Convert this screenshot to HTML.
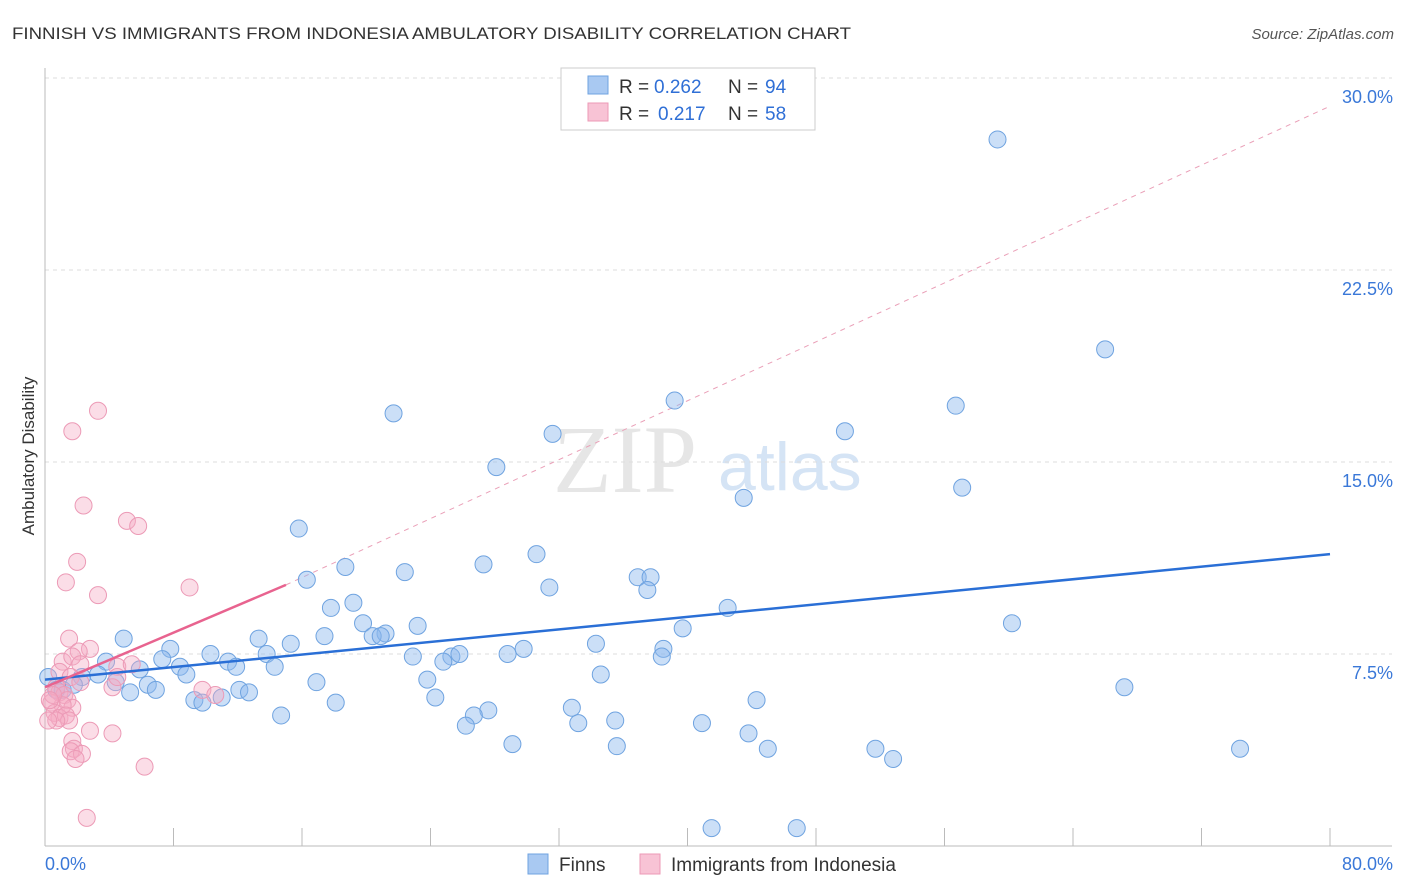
<!DOCTYPE html>
<html><head><meta charset="utf-8">
<style>
body{margin:0;background:#fff;font-family:"Liberation Sans",sans-serif;}
svg{display:block}
</style></head>
<body>
<svg id="chart" width="1406" height="892">
<text x="12" y="39" font-size="17" fill="#333" textLength="839" lengthAdjust="spacingAndGlyphs">FINNISH VS IMMIGRANTS FROM INDONESIA AMBULATORY DISABILITY CORRELATION CHART</text>
<text x="1394" y="39" font-size="15" fill="#555" font-style="italic" text-anchor="end">Source: ZipAtlas.com</text>
<text x="553" y="492" font-size="96" fill="#e6e6e6" font-family="Liberation Serif, serif">ZIP</text>
<text x="718" y="490" font-size="68" fill="#d5e4f5">atlas</text>
<text transform="translate(34,456) rotate(-90)" font-size="17" fill="#333" text-anchor="middle">Ambulatory Disability</text>
<g id="grid"></g><g id="marks"></g>
<g>
<rect x="561" y="68" width="254" height="62" fill="#fff" stroke="#ccc"/>
<rect x="588" y="76" width="20" height="18" fill="#a9c9f2" stroke="#6fa3e0"/>
<rect x="588" y="103" width="20" height="18" fill="#f8c3d5" stroke="#ec9ab6"/>
<text x="619" y="93" font-size="19" fill="#333">R =</text>
<text x="654" y="93" font-size="19" fill="#2f6fd6">0.262</text>
<text x="728" y="93" font-size="19" fill="#333">N =</text>
<text x="765" y="93" font-size="19" fill="#2f6fd6">94</text>
<text x="619" y="120" font-size="19" fill="#333">R =</text>
<text x="658" y="120" font-size="19" fill="#2f6fd6">0.217</text>
<text x="728" y="120" font-size="19" fill="#333">N =</text>
<text x="765" y="120" font-size="19" fill="#2f6fd6">58</text>
</g>
<g>
<rect x="528" y="854" width="20" height="20" fill="#a9c9f2" stroke="#6fa3e0"/>
<text x="559" y="871" font-size="19" fill="#333">Finns</text>
<rect x="640" y="854" width="20" height="20" fill="#f8c3d5" stroke="#ec9ab6"/>
<text x="671" y="871" font-size="19" fill="#333">Immigrants from Indonesia</text>
</g>
</svg>
<script>
const yTicks=[7.5,15,22.5,30];
const xTickLabels=["0.0%","80.0%"];
const finnsX=[59.3,66.0,21.7,39.2,56.7,31.6,49.8,28.1,57.1,43.5,15.8,30.6,27.3,18.7,22.4,16.3,36.9,37.7,31.4,37.5,17.8,19.2,42.5,60.2,19.8,23.2,21.2,20.4,20.9,39.7,4.9,13.3,15.3,17.4,34.3,38.5,7.8,10.3,13.8,22.9,25.3,25.8,28.8,29.8,38.4,3.8,7.3,8.4,5.9,11.4,11.9,14.3,24.8,8.8,3.3,2.3,0.2,0.7,1.1,1.8,4.4,6.4,6.9,5.3,12.1,12.7,16.9,23.8,34.6,67.2,9.3,9.8,11.0,18.1,24.3,44.3,14.7,27.6,26.7,32.8,26.2,33.2,35.5,40.9,43.8,29.1,35.6,45.0,51.7,52.8,74.4,41.5,46.8];
const finnsY=[27.6,19.4,16.9,17.4,17.2,16.1,16.2,14.8,14.0,13.6,12.4,11.4,11.0,10.9,10.7,10.4,10.5,10.5,10.1,10.0,9.3,9.5,9.3,8.7,8.7,8.6,8.3,8.2,8.2,8.5,8.1,8.1,7.9,8.2,7.9,7.7,7.7,7.5,7.5,7.4,7.4,7.5,7.5,7.7,7.4,7.2,7.3,7.0,6.9,7.2,7.0,7.0,7.2,6.7,6.7,6.6,6.6,6.1,6.1,6.3,6.4,6.3,6.1,6.0,6.1,6.0,6.4,6.5,6.7,6.2,5.7,5.6,5.8,5.6,5.8,5.7,5.1,5.3,5.1,5.4,4.7,4.8,4.9,4.8,4.4,3.98,3.9,3.8,3.8,3.4,3.8,0.7,0.7];
const indoX=[3.3,1.7,2.4,5.1,5.8,2.0,1.3,9.0,3.3,1.5,2.8,2.1,1.1,1.7,2.2,4.5,5.4,0.9,1.6,2.2,4.2,9.8,10.6,0.7,0.9,1.2,1.4,1.7,1.1,0.4,0.6,0.9,1.3,1.5,0.7,0.2,4.2,2.8,1.7,1.8,1.6,2.3,1.9,6.2,2.6,4.5,0.5,0.3];
const indoY=[17.0,16.2,13.3,12.7,12.5,11.1,10.3,10.1,9.8,8.1,7.7,7.6,7.2,7.4,7.1,7.0,7.1,6.8,6.6,6.4,6.2,6.1,5.9,6.2,6.0,5.9,5.7,5.4,5.5,5.6,5.2,5.0,5.1,4.9,4.9,4.9,4.4,4.5,4.1,3.8,3.7,3.6,3.4,3.1,1.1,6.6,5.9,5.7];
const finnsTrend=[6.5,11.4];
const indoTrend=[6.2,10.2];
const indoDash=[10.2,28.9];
const X0=45,X1=1330,YB=846;
const sx=v=>X0+(v/80)*(X1-X0);
const sy=v=>YB-v*(192/7.5);
const NS="http://www.w3.org/2000/svg";
const grid=document.getElementById('grid'),marks=document.getElementById('marks');
function mk(tag,attrs,parent){const e=document.createElementNS(NS,tag);for(const k in attrs)e.setAttribute(k,attrs[k]);parent.appendChild(e);return e;}
yTicks.forEach(t=>{
 const l=mk('line',{x1:X0,x2:1392,y1:sy(t),y2:sy(t),stroke:'#ddd','stroke-dasharray':'4,4'},grid);
 
 
 const tx=mk('text',{x:1393,y:sy(t)+25,'font-size':18,fill:'#3a78d8','text-anchor':'end'},grid);
 tx.textContent=t.toFixed(1)+'%';
 
 
});
const ax=mk('line',{x1:X0,x2:X0,y1:68,y2:YB,stroke:'#bbb'},grid);


const bx=mk('line',{x1:X0,x2:1392,y1:YB,y2:YB,stroke:'#bbb'},grid);


for(let i=0;i<=10;i++){const tk=mk('line',{x1:sx(i*8),x2:sx(i*8),y1:828,y2:YB,stroke:'#bbb'},grid);
 
 }
[[0,'start',45],[80,'end',1393]].forEach((d,i)=>{const t=mk('text',{x:d[2],y:870,'font-size':18,fill:'#3a78d8','text-anchor':d[1]},grid);t.textContent=xTickLabels[i];
 
 });
const dl=mk('line',{x1:sx(15),y1:sy(indoDash[0]),x2:sx(80),y2:sy(indoDash[1]),stroke:'#eaa0b8','stroke-dasharray':'5,5'},marks);


finnsX.forEach((x,i)=>{const c=mk('circle',{cx:sx(x),cy:sy(finnsY[i]),r:8.5,fill:'rgba(140,184,238,0.45)',stroke:'#6fa3e0','stroke-width':1},marks);
 
 });
indoX.forEach((x,i)=>{const c=mk('circle',{cx:sx(x),cy:sy(indoY[i]),r:8.5,fill:'rgba(246,170,196,0.4)',stroke:'#ec9ab6','stroke-width':1},marks);
 
 });
const ft=mk('line',{x1:sx(0),y1:sy(finnsTrend[0]),x2:sx(80),y2:sy(finnsTrend[1]),stroke:'#2a6fd6','stroke-width':2.5},marks);


const it=mk('line',{x1:sx(0),y1:sy(indoTrend[0]),x2:sx(15),y2:sy(indoTrend[1]),stroke:'#e8638f','stroke-width':2.5},marks);


</script>
</body></html>
